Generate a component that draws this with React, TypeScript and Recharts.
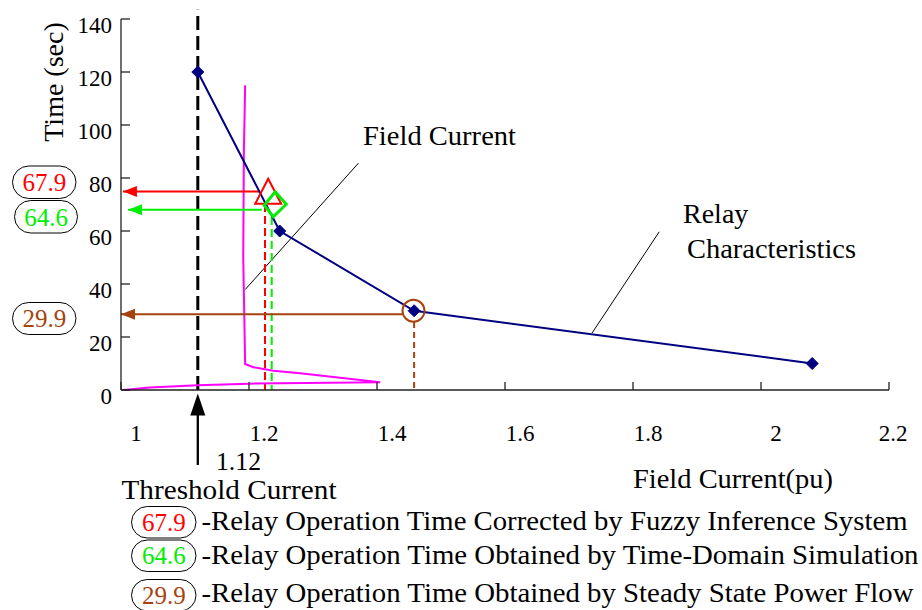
import { ComposedChart, Line, Scatter, XAxis, YAxis, ReferenceLine } from 'recharts';

const xTicks = [1, 1.2, 1.4, 1.6, 1.8, 2, 2.2];
const yTicks = [0, 20, 40, 60, 80, 100, 120, 140];

// relay characteristic (navy with diamonds)
const relayCurrent = [1.12, 1.248, 1.458, 2.08];
const relayTime = [120, 60, 29.9, 10];

// field current trajectory (magenta)
const fieldCurrent = [1.004, 1.045, 1.12, 1.2, 1.405, 1.332, 1.28, 1.238, 1.207, 1.194, 1.191, 1.192, 1.194];
const fieldTime = [0, 0.9, 1.8, 2.4, 2.9, 4.9, 6.3, 7.3, 8.6, 9.8, 50, 90, 115];

// operation time markers: fuzzy, time-domain, steady state
const opLabels = ['67.9', '64.6', '29.9'];
const opColors = ['#ff0000', '#00ee00', '#a5420f'];
const markerCurrent = [1.23, 1.241, 1.457];
const markerTime = [75.0, 70.1, 29.9];
const arrowStart = [1.003, 1.011, 1.0];
const arrowEnd = [1.217, 1.22, 1.44];
const arrowTime = [74.9, 68.0, 28.6];
const dropCurrent = [1.225, 1.2355, 1.458];
const dropTop = [70.2, 65.3, 25.7];

const threshold = 1.12;
const thresholdTop = 143.5;

const legendTexts = [
  '-Relay Operation Time Corrected by Fuzzy Inference System',
  '-Relay Operation Time Obtained by Time-Domain Simulation',
  '-Relay Operation Time Obtained by Steady State Power Flow',
];

const FONT = "'Liberation Serif', 'Times New Roman', serif";

const pts = (xs: number[], ys: number[]) => xs.map((x, i) => ({ x, y: ys[i] }));

function YTick(props: any) {
  const { x, y, payload } = props;
  return (
    <g>
      <line x1={x} x2={x + 9} y1={y} y2={y} stroke="#222" strokeWidth={1.3} />
      <text x={x - 9} y={y + 13.5} textAnchor="end" fontSize={23} fill="#000">
        {payload.value}
      </text>
    </g>
  );
}

function XTick(props: any) {
  const { x, y, payload, index } = props;
  const dx = index === xTicks.length - 1 ? 4 : 15;
  return (
    <g>
      <line x1={x} x2={x} y1={y} y2={y - 8} stroke="#222" strokeWidth={1.3} />
      <text x={x + dx} y={y + 51} textAnchor="middle" fontSize={23} fill="#000">
        {payload.value}
      </text>
    </g>
  );
}

const diamondDot = (p: any) => {
  const { cx, cy, index } = p;
  const s = 6;
  return (
    <path
      key={`d${index}`}
      d={`M${cx},${cy - s}L${cx + s},${cy}L${cx},${cy + s}L${cx - s},${cy}Z`}
      fill="#000080"
      stroke="#000080"
    />
  );
};

const arrowDot = (color: string) => (p: any) => {
  const { cx, cy, index } = p;
  if (index !== 0) return <g key={`a${index}`} />;
  return <path key={`a${index}`} d={`M${cx},${cy}L${cx + 14},${cy - 5.5}L${cx + 14},${cy + 5.5}Z`} fill={color} />;
};

const triangleShape = (p: any) => {
  const { cx, cy } = p;
  return (
    <path
      d={`M${cx},${cy - 12.5}L${cx + 13},${cy + 12.5}L${cx - 13},${cy + 12.5}Z`}
      fill="none"
      stroke={opColors[0]}
      strokeWidth={2}
    />
  );
};

const diamondShape = (p: any) => {
  const { cx, cy } = p;
  return (
    <path
      d={`M${cx},${cy - 12.5}L${cx + 11},${cy}L${cx - 2},${cy + 12.5}L${cx - 11},${cy + 1}Z`}
      fill="none"
      stroke={opColors[1]}
      strokeWidth={3}
    />
  );
};

const circleShape = (p: any) => {
  const { cx, cy } = p;
  return <circle cx={cx} cy={cy} r={11} fill="none" stroke={opColors[2]} strokeWidth={2} />;
};

const thresholdArrow = (p: any) => {
  const { x1, y1, y2 } = p;
  const top = Math.min(y1, y2);
  const bottom = Math.max(y1, y2);
  return (
    <g>
      <line x1={x1} x2={x1} y1={top + 18} y2={bottom} stroke="#000" strokeWidth={2.3} />
      <path d={`M${x1},${top}L${x1 + 7.5},${top + 22}L${x1 - 7.5},${top + 22}Z`} fill="#000" />
    </g>
  );
};

function Bubble({ x, y, w, h, label, color }: any) {
  return (
    <g>
      <rect x={x} y={y} width={w} height={h} rx={h / 2} ry={h / 2} fill="none" stroke="#000" strokeWidth={1} />
      <text x={x + w / 2} y={y + h - 7.5} textAnchor="middle" fontSize={25} fill={color}>
        {label}
      </text>
    </g>
  );
}

export default function App() {
  const shapes = [triangleShape, diamondShape, circleShape];
  const sideBubbles = [
    { x: 12.5, y: 166, w: 63.5, h: 32.5 },
    { x: 14.5, y: 200.5, w: 63, h: 32.5 },
    { x: 12.5, y: 302.5, w: 63.5, h: 32 },
  ];
  const legendY = [506.5, 540, 579.5];
  const legendBase = [530, 563.5, 602];
  const legendLen = [706, 717, 712];

  return (
    <div
      style={{
        position: 'absolute',
        left: 0,
        top: 0,
        width: 922,
        height: 610,
        background: '#fff',
        fontFamily: FONT,
      }}
    >
      <ComposedChart width={922} height={610} margin={{ top: 19, right: 33, bottom: 200, left: 101 }}>
        <XAxis
          type="number"
          dataKey="x"
          domain={[1, 2.2]}
          ticks={xTicks}
          height={20}
          tickSize={0}
          tickMargin={0}
          tickLine={false}
          tick={<XTick />}
          axisLine={{ stroke: '#222', strokeWidth: 1.3 }}
        />
        <YAxis
          type="number"
          dataKey="y"
          domain={[0, 140]}
          ticks={yTicks}
          width={20}
          tickSize={0}
          tickMargin={0}
          tickLine={false}
          tick={<YTick />}
          axisLine={{ stroke: '#222', strokeWidth: 1.3 }}
        />

        <ReferenceLine
          segment={[{ x: threshold, y: 0 }, { x: threshold, y: thresholdTop }]}
          ifOverflow="visible"
          stroke="#000"
          strokeWidth={3}
          strokeDasharray="14 6"
        />
        <ReferenceLine
          segment={[{ x: threshold, y: -28.3 }, { x: threshold, y: -1.3 }]}
          ifOverflow="visible"
          shape={thresholdArrow}
        />
        {/* leader lines of the annotations */}
        <ReferenceLine segment={[{ x: 1.371, y: 85.6 }, { x: 1.194, y: 37.9 }]} ifOverflow="visible" stroke="#000" strokeWidth={1} />
        <ReferenceLine segment={[{ x: 1.841, y: 59.7 }, { x: 1.736, y: 21.5 }]} ifOverflow="visible" stroke="#000" strokeWidth={1} />

        {opColors.map((c, i) => (
          <Line
            key={`drop${i}`}
            data={pts([dropCurrent[i], dropCurrent[i]], [dropTop[i], 0])}
            dataKey="y"
            stroke={c}
            strokeWidth={2}
            strokeDasharray={i === 2 ? '6 4' : '8 4'}
            dot={false}
            activeDot={false}
            isAnimationActive={false}
          />
        ))}

        <Line
          data={pts(fieldCurrent, fieldTime)}
          dataKey="y"
          stroke="#ff00ff"
          strokeWidth={2}
          dot={false}
          activeDot={false}
          isAnimationActive={false}
        />

        {opColors.map((c, i) => (
          <Line
            key={`arrow${i}`}
            data={pts([arrowStart[i], arrowEnd[i]], [arrowTime[i], arrowTime[i]])}
            dataKey="y"
            stroke={c}
            strokeWidth={2}
            dot={arrowDot(c)}
            activeDot={false}
            isAnimationActive={false}
          />
        ))}

        <Line
          data={pts(relayCurrent, relayTime)}
          dataKey="y"
          stroke="#000080"
          strokeWidth={2}
          dot={diamondDot}
          activeDot={false}
          isAnimationActive={false}
        />

        {opColors.map((c, i) => (
          <Scatter
            key={`mk${i}`}
            data={[{ x: markerCurrent[i], y: markerTime[i] }]}
            dataKey="y"
            shape={shapes[i]}
            isAnimationActive={false}
          />
        ))}
      </ComposedChart>

      <svg width={922} height={610} style={{ position: 'absolute', left: 0, top: 0, pointerEvents: 'none' }}>
        <text transform="translate(63,82) rotate(-90)" textAnchor="middle" fontSize={28} fill="#000">
          Time (sec)
        </text>
        <text x={363} y={145} fontSize={28} fill="#000" textLength={153} lengthAdjust="spacingAndGlyphs">
          Field Current
        </text>
        <text x={683} y={223} fontSize={28} fill="#000">
          Relay
        </text>
        <text x={687} y={258} fontSize={28} fill="#000" textLength={169} lengthAdjust="spacingAndGlyphs">
          Characteristics
        </text>
        <text x={216} y={470} fontSize={25} fill="#000" textLength={45} lengthAdjust="spacingAndGlyphs">
          1.12
        </text>
        <text x={121.5} y={499} fontSize={28} fill="#000" textLength={215} lengthAdjust="spacingAndGlyphs">
          Threshold Current
        </text>
        <text x={633} y={488} fontSize={28} fill="#000" textLength={200} lengthAdjust="spacingAndGlyphs">
          Field Current(pu)
        </text>

        {opLabels.map((l, i) => (
          <Bubble key={`sb${i}`} {...sideBubbles[i]} label={l} color={opColors[i]} />
        ))}

        {opLabels.map((l, i) => (
          <g key={`lg${i}`}>
            <Bubble x={131.5} y={legendY[i]} w={64.5} h={31.5} label={l} color={opColors[i]} />
            <text
              x={201.5}
              y={legendBase[i]}
              fontSize={28}
              fill="#000"
              textLength={legendLen[i]}
              lengthAdjust="spacingAndGlyphs"
            >
              {legendTexts[i]}
            </text>
          </g>
        ))}
      </svg>
    </div>
  );
}
